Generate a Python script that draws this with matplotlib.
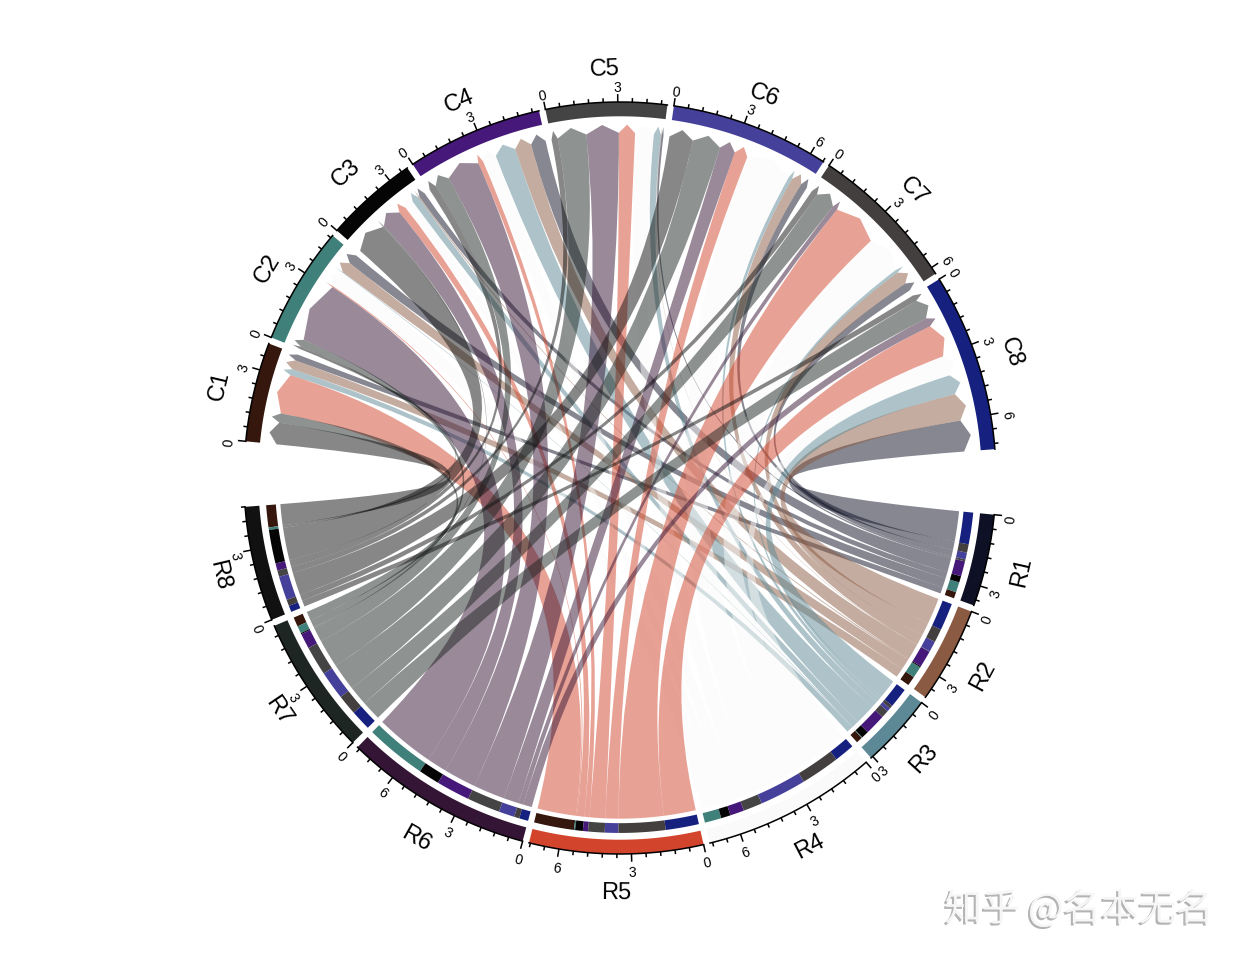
import numpy as np
import matplotlib
matplotlib.use("Agg")
import matplotlib.pyplot as plt
from matplotlib.path import Path
from matplotlib.patches import PathPatch
import matplotlib.patheffects as pe

row_names = ["R1", "R2", "R3", "R4", "R5", "R6", "R7", "R8"]
col_names = ["C1", "C2", "C3", "C4", "C5", "C6", "C7", "C8"]

#     C1    C2    C3    C4    C5    C6    C7    C8
r1 = [0.28, 0.45, 0.28, 0.67, 0.09, 0.30, 0.37, 1.40]
r2 = [0.42, 0.51, 0.05, 0.74, 0.02, 0.47, 0.60, 1.21]
r3 = [0.28, 0.03, 0.33, 0.93, 0.33, 0.17, 0.14, 0.88]
r4 = [0.00, 0.74, 0.42, 0.62, 0.84, 2.07, 1.72, 0.90]
r5 = [1.77, 0.05, 0.34, 0.23, 0.73, 0.60, 2.07, 1.47]
r6 = [0.00, 2.70, 0.93, 1.49, 1.46, 0.70, 0.23, 0.40]
r7 = [0.42, 0.33, 0.05, 0.68, 1.30, 1.26, 0.89, 0.90]
r8 = [0.98, 0.11, 1.49, 0.32, 0.28, 1.06, 0.28, 0.28]
matrix = np.array([r1, r2, r3, r4, r5, r6, r7, r8])

row_colors = ["#0e1025", "#8b5a42", "#5c8995", "#fafafa",
              "#d2452c", "#351535", "#1e2623", "#111111"]
col_colors = ["#35170e", "#40807a", "#050505", "#45187a",
              "#444444", "#45409a", "#443f3f", "#15207f"]

small_gap = 1.0
big_gap = 10.0
start_cw = 5.6
text_shift = 3.0  # px, labels sit a bit low against the ring

fig = plt.figure(figsize=(12.4, 9.59), dpi=100)
ax = fig.add_axes([0, 0, 1, 1])
unit = 376.0
ax.set_xlim(-620 / unit, 620 / unit)
ax.set_ylim(-(959 - 478) / unit, 478 / unit)
ax.axis("off")

plt.rcParams["font.family"] = ["Liberation Sans", "DejaVu Sans"]


def pt(cw, r):
    t = np.deg2rad(-np.asarray(cw))
    return r * np.cos(t), r * np.sin(t)


def arc(cw0, cw1, r, n=40):
    x, y = pt(np.linspace(cw0, cw1, n), r)
    return list(zip(x, y))


def ring(cw0, cw1, r0, r1, color, z=3):
    verts = arc(cw0, cw1, r1) + arc(cw1, cw0, r0)
    ax.fill(*zip(*verts), color=color, lw=0, zorder=z)


def text_rot(cw):
    # keep the text readable, top half points out and lower half points in
    cw = cw % 360
    if cw > 180:
        return (-cw - 90) % 360
    return (-cw + 90) % 360


def draw_sector(name, total, cw0, deg, color):
    ring(cw0, cw0 + total * deg, 0.962, 1.0, color)
    ax.plot(*zip(*arc(cw0, cw0 + total * deg, 1.0)), color="black", lw=1.1, zorder=4)
    mid = cw0 + total * deg / 2
    x, y = pt(mid, 1.095)
    ax.text(x, y - text_shift / unit, name, fontsize=17, ha="center", va="center",
            rotation=text_rot(mid), rotation_mode="anchor")
    for i in range(int(total / 0.6 + 1e-6) + 1):
        v = i * 0.6
        cw = cw0 + v * deg
        major = i % 5 == 0
        x0, y0 = pt(cw, 1.0)
        x1, y1 = pt(cw, 1.021 if major else 1.011)
        ax.plot([x0, x1], [y0, y1], color="black", lw=1.1, zorder=4,
                solid_capstyle="butt")
        if major:
            x2, y2 = pt(cw, 1.044)
            ax.text(x2, y2 - text_shift / unit, str(int(round(v))), fontsize=10,
                    ha="center", va="center",
                    rotation=text_rot(cw), rotation_mode="anchor")


row_tot = matrix.sum(axis=1)
col_tot = matrix.sum(axis=0)
deg = (360 - 14 * small_gap - 2 * big_gap) / (row_tot.sum() + col_tot.sum())

# sector start angles, clockwise from east
row_start = []
cw = start_cw
for t in row_tot:
    row_start.append(cw)
    cw += t * deg + small_gap
cw += big_gap - small_gap
col_start = []
for t in col_tot:
    col_start.append(cw)
    cw += t * deg + small_gap

for i, name in enumerate(row_names):
    draw_sector(name, row_tot[i], row_start[i], deg, row_colors[i])
for j, name in enumerate(col_names):
    draw_sector(name, col_tot[j], col_start[j], deg, col_colors[j])

# link slots, rows run C8..C1 clockwise and columns run R8..R1 clockwise
row_slot = {}
for i in range(8):
    cw = row_start[i]
    for j in range(7, -1, -1):
        row_slot[i, j] = (cw, cw + matrix[i, j] * deg)
        cw += matrix[i, j] * deg
col_slot = {}
for j in range(8):
    cw = col_start[j]
    for i in range(7, -1, -1):
        col_slot[i, j] = (cw, cw + matrix[i, j] * deg)
        cw += matrix[i, j] * deg

r_root = 0.906
r_head = 0.918
r_tip = 0.94

for i in range(8):
    for j in range(8):
        if matrix[i, j] <= 0:
            continue
        a0, a1 = row_slot[i, j]
        b0, b1 = col_slot[i, j]
        ring(a0, a1, 0.918, 0.944, col_colors[j], z=3)

        verts = arc(a0, a1, r_root, 12)
        codes = [Path.MOVETO] + [Path.LINETO] * 11
        verts += [(0, 0), pt(b0, r_head)]
        codes += [Path.CURVE3, Path.CURVE3]
        verts += [pt((b0 + b1) / 2, r_tip), pt(b1, r_head)]
        codes += [Path.LINETO, Path.LINETO]
        verts += [(0, 0), pt(a0, r_root)]
        codes += [Path.CURVE3, Path.CURVE3]
        ax.add_patch(PathPatch(Path(verts, codes), facecolor=row_colors[i],
                               edgecolor="none", alpha=0.5, zorder=2))

wm = ax.text(1079 / unit - 620 / unit, (478 - 910) / unit, "知乎 @名本无名", fontsize=27,
             family=["Noto Sans CJK SC", "DejaVu Sans"], color="#f6f6f6",
             ha="center", va="center")
wm.set_path_effects([pe.withSimplePatchShadow(offset=(-1.5, -1.5), shadow_rgbFace="#b4b4b4", alpha=1)])

fig.savefig("out.png", dpi=100)
